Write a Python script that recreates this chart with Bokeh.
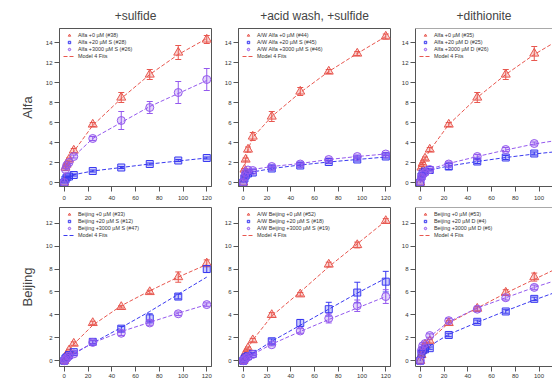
from bokeh.plotting import figure
from bokeh.layouts import row, column
from bokeh.models import (ColumnDataSource, Whisker, TeeHead, Legend, LegendItem,
                          Span, Range1d)
from bokeh.embed import file_html
from bokeh.resources import INLINE

# ---------------- data ----------------
t = [0, 1, 2, 4, 8, 24, 48, 72, 96, 120]
x_ticks = [0, 20, 40, 60, 80, 100, 120]
y_ticks_top = [0, 2, 4, 6, 8, 10, 12, 14]
y_ticks_bot = [0, 2, 4, 6, 8, 10, 12]

col_titles = ["+sulfide", "+acid wash, +sulfide", "+dithionite"]
row_titles = ["Alfa", "Beijing"]

# Panel 1: Alfa + sulfide
p1_labels = ["Alfa +0 µM (#38)", "Alfa +20 µM S (#28)", "Alfa +3000 µM S (#26)"]
p1_red = [0, 1.5, 1.8, 2.3, 3.2, 5.8, 8.5, 10.8, 13.0, 14.3]
p1_red_err = [0, 0.1, 0.1, 0.15, 0.2, 0.2, 0.5, 0.5, 0.7, 0.4]
p1_red_fit = [0, 1.2, 1.7, 2.3, 3.1, 5.7, 8.4, 10.8, 12.8, 14.4]
p1_blue = [0, 0.3, 0.5, 0.6, 0.75, 1.15, 1.5, 1.85, 2.2, 2.45]
p1_blue_err = [0, 0.05, 0.05, 0.05, 0.1, 0.1, 0.1, 0.1, 0.1, 0.1]
p1_blue_fit = [0, 0.35, 0.5, 0.62, 0.78, 1.15, 1.5, 1.85, 2.15, 2.45]
p1_purple = [0, 1.3, 1.7, 2.0, 2.6, 4.4, 6.2, 7.5, 9.0, 10.3]
p1_purple_err = [0, 0.1, 0.1, 0.1, 0.15, 0.2, 0.9, 0.6, 1.1, 1.1]
p1_purple_fit = [0, 1.1, 1.5, 2.0, 2.6, 4.4, 6.0, 7.6, 8.9, 10.2]

# Panel 2: acid-washed Alfa + sulfide
p2_labels = ["A/W Alfa +0 µM (#44)", "A/W Alfa +20 µM S (#45)", "A/W Alfa +3000 µM S (#46)"]
p2_red = [0, 1.3, 2.3, 3.3, 4.6, 6.6, 9.1, 11.1, 12.9, 14.6]
p2_red_err = [0, 0.1, 0.15, 0.25, 0.4, 0.5, 0.4, 0.2, 0.2, 0.25]
p2_red_fit = [0, 1.3, 2.2, 3.3, 4.5, 6.6, 9.0, 11.1, 12.9, 14.6]
p2_blue = [0, 0.4, 0.7, 0.9, 1.0, 1.4, 1.7, 2.05, 2.3, 2.6]
p2_blue_err = [0, 0.05, 0.05, 0.1, 0.1, 0.15, 0.15, 0.15, 0.15, 0.15]
p2_blue_fit = [0, 0.45, 0.7, 0.9, 1.05, 1.4, 1.75, 2.05, 2.3, 2.55]
p2_purple = [0, 0.6, 1.0, 1.25, 1.2, 1.6, 1.85, 2.3, 2.6, 2.85]
p2_purple_err = [0, 0.05, 0.1, 0.1, 0.1, 0.15, 0.15, 0.15, 0.15, 0.15]
p2_purple_fit = [0, 0.6, 0.95, 1.2, 1.3, 1.6, 1.9, 2.3, 2.6, 2.85]

# Panel 3: Alfa + dithionite
p3_labels = ["Alfa +0 µM (#35)", "Alfa +20 µM D (#25)", "Alfa +3000 µM D (#26)"]
p3_red = [0, 1.5, 1.9, 2.4, 3.3, 5.8, 8.5, 10.8, 12.9, 14.4]
p3_red_err = [0, 0.1, 0.1, 0.15, 0.2, 0.2, 0.5, 0.5, 0.7, 0.4]
p3_red_fit = [0, 1.3, 1.8, 2.4, 3.2, 5.8, 8.5, 10.8, 12.8, 14.5]
p3_blue = [0, 0.6, 0.9, 1.1, 1.25, 1.6, 2.1, 2.5, 2.9, 3.2]
p3_blue_err = [0, 0.05, 0.1, 0.1, 0.1, 0.3, 0.2, 0.2, 0.15, 0.15]
p3_blue_fit = [0, 0.6, 0.85, 1.05, 1.25, 1.65, 2.1, 2.5, 2.85, 3.15]
p3_purple = [0, 0.5, 0.8, 1.0, 1.3, 1.85, 2.6, 3.3, 3.9, 4.3]
p3_purple_err = [0, 0.05, 0.05, 0.1, 0.1, 0.2, 0.2, 0.2, 0.15, 0.15]
p3_purple_fit = [0, 0.5, 0.8, 1.05, 1.35, 1.9, 2.6, 3.25, 3.85, 4.3]

# Panel 4: Beijing + sulfide
p4_labels = ["Beijing +0 µM (#33)", "Beijing +20 µM S (#12)", "Beijing +3000 µM S (#47)"]
p4_red = [0, 0.3, 0.5, 0.9, 1.5, 3.3, 4.7, 6.0, 7.3, 8.5]
p4_red_err = [0, 0.05, 0.05, 0.1, 0.15, 0.15, 0.1, 0.15, 0.45, 0.3]
p4_red_fit = [0, 0.35, 0.55, 0.9, 1.45, 3.1, 4.8, 6.1, 7.3, 8.4]
p4_blue = [0, 0.2, 0.3, 0.5, 0.75, 1.65, 2.8, 3.7, 5.6, 8.0]
p4_blue_err = [0, 0.05, 0.05, 0.1, 0.1, 0.15, 0.2, 0.4, 0.2, 0.3]
p4_blue_fit = [0, 0.1, 0.2, 0.35, 0.6, 1.55, 2.9, 4.3, 5.8, 7.3]
p4_purple = [0, 0.1, 0.25, 0.4, 0.6, 1.6, 2.4, 3.3, 4.1, 4.9]
p4_purple_err = [0, 0.05, 0.05, 0.05, 0.1, 0.15, 0.2, 0.2, 0.15, 0.15]
p4_purple_fit = [0, 0.1, 0.2, 0.4, 0.65, 1.55, 2.55, 3.35, 4.15, 4.9]

# Panel 5: acid-washed Beijing + sulfide
p5_labels = ["A/W Beijing +0 µM (#52)", "A/W Beijing +20 µM S (#18)", "A/W Beijing +3000 µM S (#19)"]
p5_red = [0, 0.3, 0.7, 1.1, 1.8, 4.0, 5.8, 8.4, 10.1, 12.2]
p5_red_err = [0, 0.05, 0.1, 0.1, 0.15, 0.2, 0.15, 0.2, 0.25, 0.2]
p5_red_fit = [0, 0.3, 0.6, 1.1, 1.8, 3.9, 6.0, 8.2, 10.2, 12.2]
p5_blue = [0, 0.15, 0.3, 0.4, 0.6, 1.7, 3.3, 4.5, 5.95, 6.9]
p5_blue_err = [0, 0.05, 0.05, 0.05, 0.1, 0.2, 0.3, 0.6, 0.9, 0.9]
p5_blue_fit = [0, 0.1, 0.25, 0.4, 0.65, 1.7, 3.1, 4.5, 5.9, 7.2]
p5_purple = [0, 0.1, 0.2, 0.35, 0.55, 1.4, 2.6, 3.7, 4.8, 5.6]
p5_purple_err = [0, 0.05, 0.05, 0.05, 0.1, 0.1, 0.2, 0.4, 0.5, 0.6]
p5_purple_fit = [0, 0.1, 0.2, 0.35, 0.55, 1.45, 2.55, 3.6, 4.6, 5.6]

# Panel 6: Beijing + dithionite
p6_labels = ["Beijing +0 µM (#53)", "Beijing +20 µM D (#4)", "Beijing +3000 µM D (#6)"]
p6_red = [0, 0.5, 0.9, 1.4, 1.7, 3.3, 4.55, 5.95, 7.3, 8.3]
p6_red_err = [0, 0.1, 0.1, 0.1, 0.15, 0.2, 0.2, 0.25, 0.35, 0.3]
p6_red_fit = [0, 0.45, 0.85, 1.3, 1.8, 3.3, 4.6, 5.9, 7.1, 8.3]
p6_blue = [0, 0.6, 0.9, 1.0, 1.1, 2.25, 3.4, 4.3, 5.4, 6.2]
p6_blue_err = [0, 0.1, 0.1, 0.1, 0.1, 0.15, 0.15, 0.15, 0.15, 0.2]
p6_blue_fit = [0, 0.5, 0.75, 1.0, 1.3, 2.3, 3.35, 4.35, 5.3, 6.2]
p6_purple = [0, 0.9, 1.3, 1.5, 2.2, 3.5, 4.5, 5.5, 6.4, 7.1]
p6_purple_err = [0, 0.1, 0.1, 0.1, 0.15, 0.2, 0.2, 0.2, 0.2, 0.2]
p6_purple_fit = [0, 0.85, 1.2, 1.6, 2.1, 3.4, 4.6, 5.5, 6.4, 7.2]

# ---------------- styling ----------------
RED = "#e8574f"
BLUE = "#3a3af0"
PURPLE = "#9459ee"
FRAME = "#555555"
FONT = "Liberation Sans"


def make_panel(series, labels, fit_legend_color, width, border_left, border_right,
               x_end, y_range, yticks, title=None, ylabel=None, top=True, cut_right=False):
    fh = 158 if top else 159
    p = figure(frame_width=width, frame_height=fh,
               x_range=Range1d(-4, x_end), y_range=Range1d(*y_range),
               output_backend="svg", toolbar_location=None,
               min_border_left=border_left, min_border_right=border_right,
               min_border_top=27 if top else 3, min_border_bottom=18 if top else 14,
               background_fill_color="white", border_fill_color="white")
    p.xgrid.visible = False
    p.ygrid.visible = False
    if cut_right:
        p.outline_line_color = None
        p.add_layout(Span(location=y_range[1], dimension="width",
                          line_color=FRAME, line_width=1))
    else:
        p.outline_line_color = FRAME
        p.outline_line_alpha = 1
        p.outline_line_width = 1
    for ax in (p.xaxis[0], p.yaxis[0]):
        ax.axis_line_color = FRAME
        ax.major_tick_line_color = FRAME
        ax.minor_tick_line_color = None
        ax.major_tick_in = 0
        ax.major_tick_out = 5
        ax.major_label_text_font_size = "6px"
        ax.major_label_text_font = FONT
        ax.major_label_text_color = "#333333"
    p.xaxis.ticker = x_ticks
    p.yaxis.ticker = yticks
    p.xaxis.major_label_standoff = 4 if top else 2
    p.yaxis.major_label_standoff = 2
    if ylabel:
        p.yaxis.axis_label = ylabel
        p.yaxis.axis_label_text_font_size = "13px"
        p.yaxis.axis_label_text_font_style = "normal"
        p.yaxis.axis_label_text_font = FONT
        p.yaxis.axis_label_standoff = 8
    if title:
        p.title.text = title
        p.title.align = "center"
        p.title.text_font_size = "12px"
        p.title.text_font_style = "normal"
        p.title.text_font = FONT
        p.title.standoff = 12
    else:
        p.title.visible = False

    items = []
    fit_rend = {}
    markers = ["triangle", "square", "circle"]
    sizes = [9, 7, 8]
    for (vals, errs, fit, color), mk, sz, lab in zip(series, markers, sizes, labels):
        lr = p.line(t, fit, line_color=color, line_width=1, line_dash="4 2")
        fit_rend[color] = lr
        tt = [a for a, e in zip(t, errs) if e > 0]
        hi = [v + e for v, e in zip(vals, errs) if e > 0]
        lo = [v - e for v, e in zip(vals, errs) if e > 0]
        src = ColumnDataSource(dict(t=tt, hi=hi, lo=lo))
        p.add_layout(Whisker(source=src, base="t", upper="hi", lower="lo",
                             line_color=color, line_width=1,
                             upper_head=TeeHead(size=6, line_color=color, line_width=1),
                             lower_head=TeeHead(size=6, line_color=color, line_width=1)))
        sr = p.scatter(t, vals, marker=mk, size=sz, line_color=color, line_width=1,
                       fill_color=color, fill_alpha=0.25)
        items.append(LegendItem(label=lab, renderers=[sr]))
    items.append(LegendItem(label="Model 4 Fits", renderers=[fit_rend[fit_legend_color]]))
    leg = Legend(items=items, location="top_left", margin=4, padding=6,
                 spacing=1, glyph_width=12, glyph_height=6, label_height=6,
                 label_standoff=3, label_text_font_size="5.4px", label_text_font=FONT,
                 label_text_color="#333333", background_fill_alpha=0,
                 border_line_color=None)
    p.add_layout(leg)
    return p


yr_top = (-0.4, 15.4)
yr_bot = (-0.5, 13.37)
x_end_cut = -4 + 137 / 1.1875

pa = make_panel([(p1_red, p1_red_err, p1_red_fit, RED), (p1_blue, p1_blue_err, p1_blue_fit, BLUE),
                 (p1_purple, p1_purple_err, p1_purple_fit, PURPLE)], p1_labels, RED,
                152, 59, 5, 124, yr_top, y_ticks_top, title=col_titles[0], ylabel=row_titles[0])
pb = make_panel([(p2_red, p2_red_err, p2_red_fit, RED), (p2_blue, p2_blue_err, p2_blue_fit, BLUE),
                 (p2_purple, p2_purple_err, p2_purple_fit, PURPLE)], p2_labels, RED,
                152, 22, 3, 124, yr_top, y_ticks_top, title=col_titles[1])
pc = make_panel([(p3_red, p3_red_err, p3_red_fit, RED), (p3_blue, p3_blue_err, p3_blue_fit, BLUE),
                 (p3_purple, p3_purple_err, p3_purple_fit, PURPLE)], p3_labels, RED,
                137, 22, 0, x_end_cut, yr_top, y_ticks_top, title=col_titles[2],
                cut_right=True)
pd_ = make_panel([(p4_red, p4_red_err, p4_red_fit, RED), (p4_blue, p4_blue_err, p4_blue_fit, BLUE),
                  (p4_purple, p4_purple_err, p4_purple_fit, PURPLE)], p4_labels, BLUE,
                 152, 59, 5, 124, yr_bot, y_ticks_bot, ylabel=row_titles[1], top=False)
pe = make_panel([(p5_red, p5_red_err, p5_red_fit, RED), (p5_blue, p5_blue_err, p5_blue_fit, BLUE),
                 (p5_purple, p5_purple_err, p5_purple_fit, PURPLE)], p5_labels, RED,
                152, 22, 3, 124, yr_bot, y_ticks_bot, top=False)
pf = make_panel([(p6_red, p6_red_err, p6_red_fit, RED), (p6_blue, p6_blue_err, p6_blue_fit, BLUE),
                 (p6_purple, p6_purple_err, p6_purple_fit, PURPLE)], p6_labels, RED,
                137, 22, 0, x_end_cut, yr_bot, y_ticks_bot, top=False, cut_right=True)

layout = column(row(pa, pb, pc, spacing=0), row(pd_, pe, pf, spacing=0), spacing=0)

open("out.html", "w").write(file_html(layout, INLINE))
